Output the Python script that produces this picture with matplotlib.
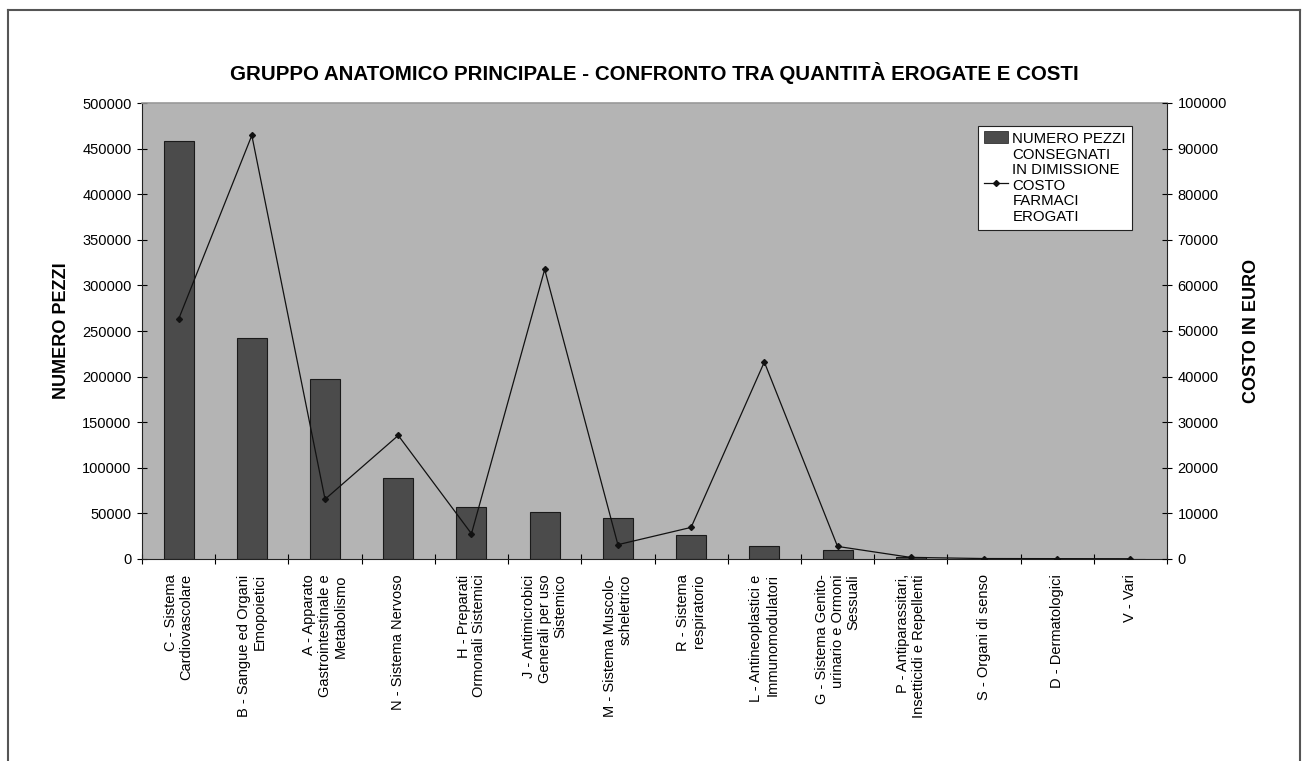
import matplotlib
matplotlib.use("Agg")
import matplotlib.pyplot as plt
from matplotlib.lines import Line2D
from matplotlib.patches import Rectangle
from matplotlib.legend_handler import HandlerPatch, HandlerLine2D
from matplotlib.transforms import Affine2D
import numpy as np

plt.rcParams['font.family'] = ['Liberation Sans', 'DejaVu Sans']

categorie = [
    "C - Sistema\nCardiovascolare",
    "B - Sangue ed Organi\nEmopoietici",
    "A - Apparato\nGastrointestinale e\nMetabolismo",
    "N - Sistema Nervoso",
    "H - Preparati\nOrmonali Sistemici",
    "J - Antimicrobici\nGenerali per uso\nSistemico",
    "M - Sistema Muscolo-\nscheletrico",
    "R - Sistema\nrespiratorio",
    "L - Antineoplastici e\nImmunomodulatori",
    "G - Sistema Genito-\nurinario e Ormoni\nSessuali",
    "P - Antiparassitari,\nInsetticidi e Repellenti",
    "S - Organi di senso",
    "D - Dermatologici",
    "V - Vari",
]
numero_pezzi = [458000, 242000, 197000, 89000, 57000, 51600, 45300,
                26300, 14600, 10200, 2200, 400, 250, 100]
costo_euro = [52600, 92900, 13100, 27100, 5550, 63500, 3140,
              6930, 43200, 2760, 350, 100, 80, 60]

W, H = 1303, 761
fig = plt.figure(figsize=(W / 100, H / 100), dpi=100)

# area del grafico in pixel: x 142..1167, y 103..559
ax = fig.add_axes([142 / W, 1 - 559 / H, (1167 - 142) / W, (559 - 103) / H])
ax.set_facecolor('#b4b4b4')

bar_color = '#4b4b4b'
x = np.arange(len(categorie))
ax.bar(x, numero_pezzi, width=0.41, color=bar_color, edgecolor='#1a1a1a',
       linewidth=0.8, zorder=2)
ax.set_xlim(-0.5, len(categorie) - 0.5)
ax.set_ylim(0, 500000)
ax.set_yticks(np.arange(0, 500001, 50000))
ax.set_xticks(x)
ax.set_xticklabels(categorie, rotation=90, fontsize=10.5, ha='center',
                   va='top', multialignment='right', linespacing=1.15)
ax.set_xticks(np.arange(-0.5, len(categorie), 1), minor=True)
ax.tick_params(axis='x', which='major', length=0, pad=11)
ax.tick_params(axis='x', which='minor', length=7, direction='inout', width=0.8)
ax.tick_params(axis='y', length=7, direction='inout', width=0.8, labelsize=10.5, pad=4)
ax.set_ylabel("NUMERO PEZZI", fontsize=13, fontweight='bold', labelpad=9)

ax.spines['right'].set_visible(False)
ax.spines['top'].set_color('#999999')
ax.spines['top'].set_linewidth(1.2)
ax.spines['left'].set_color('#222222')
ax.spines['bottom'].set_color('#222222')

ax2 = ax.twinx()
linea, = ax2.plot(x, costo_euro, color='#111111', linewidth=0.9, marker='D',
                  markersize=3, zorder=3)
ax2.set_ylim(0, 100000)
ax2.set_yticks(np.arange(0, 100001, 10000))
ax2.tick_params(axis='y', length=7, direction='inout', width=0.8, labelsize=10.5, pad=4)
ax2.set_ylabel("COSTO IN EURO", fontsize=13, fontweight='bold', labelpad=12)
for s in ['top', 'left', 'bottom']:
    ax2.spines[s].set_visible(False)
ax2.spines['right'].set_color('#222222')


class TopPatch(HandlerPatch):
    # simbolo allineato con la prima riga dell'etichetta
    def create_artists(self, legend, orig_handle, xdescent, ydescent,
                       width, height, fontsize, trans):
        t = Affine2D().translate(0, 1.2 * fontsize) + trans
        return super().create_artists(legend, orig_handle, xdescent, ydescent,
                                      width, height, fontsize, t)


class TopLine(HandlerLine2D):
    def create_artists(self, legend, orig_handle, xdescent, ydescent,
                       width, height, fontsize, trans):
        t = Affine2D().translate(0, 1.2 * fontsize) + trans
        return super().create_artists(legend, orig_handle, xdescent, ydescent,
                                      width, height, fontsize, t)


patch_leg = Rectangle((0, 0), 1, 1, facecolor=bar_color, edgecolor='#1a1a1a', linewidth=0.5)
leg = ax2.legend([patch_leg, linea],
                 ["NUMERO PEZZI\nCONSEGNATI\nIN DIMISSIONE", "COSTO\nFARMACI\nEROGATI"],
                 loc='upper left',
                 bbox_to_anchor=(978 / W, 1 - 126 / H),
                 bbox_transform=fig.transFigure, borderaxespad=0,
                 fontsize=10.8, frameon=True, fancybox=False, framealpha=1,
                 edgecolor='#222222', handlelength=1.6, handleheight=0.8,
                 handletextpad=0.3, borderpad=0.4, labelspacing=0.08,
                 handler_map={Rectangle: TopPatch(), Line2D: TopLine()})
leg.get_frame().set_linewidth(0.8)
for t in leg.get_texts():
    t.set_linespacing(1.15)

fig.text((142 + 1167) / 2 / W, 1 - 73 / H,
         "GRUPPO ANATOMICO PRINCIPALE - CONFRONTO TRA QUANTITÀ EROGATE E COSTI",
         ha='center', va='center', fontsize=14.8, fontweight='bold')

# cornice esterna (aperta in basso)
for xs, ys in [([8, 8], [H, 10]), ([8, 1300], [10, 10]), ([1300, 1300], [10, H])]:
    fig.add_artist(Line2D([v / W for v in xs], [1 - v / H for v in ys],
                          transform=fig.transFigure, color='#555555', linewidth=1.5))

fig.savefig("out.png", dpi=100)
